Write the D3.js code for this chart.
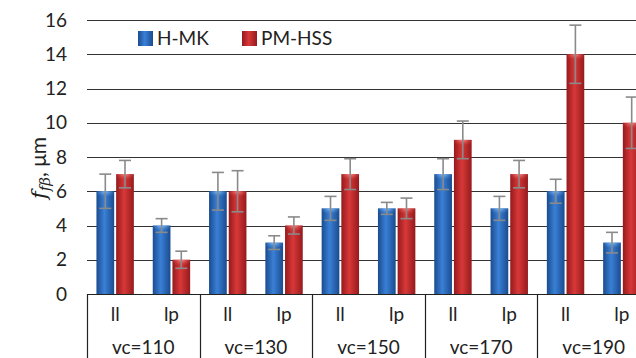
<!DOCTYPE html>
<html>
<head>
<meta charset="utf-8">
<script src="https://cdn.jsdelivr.net/npm/d3@7"></script>
<style>
  body { margin: 0; background: #fff; }
  svg { display: block; font-family: Lato, "Open Sans", sans-serif; }
</style>
</head>
<body>
<svg id="chart" width="636" height="358"></svg>
<script>
// speeds and pass types
const groups = ["vc=110", "vc=130", "vc=150", "vc=170", "vc=190"];
const subs = ["ll", "lp"];
const seriesNames = ["H-MK", "PM-HSS"];

// values per group/sub, in order 110 ll, 110 lp, 130 ll, ...
const hmk = [6, 4, 6, 3, 5, 5, 7, 5, 6, 3];
const pmhss = [7, 2, 6, 4, 7, 5, 9, 7, 14, 10];
const hmkErr = [1, 0.4, 1.1, 0.4, 0.7, 0.35, 0.9, 0.7, 0.7, 0.6];
const pmhssErr = [0.8, 0.5, 1.2, 0.5, 0.9, 0.6, 1.1, 0.8, 1.7, 1.5];
const yTicks = [0, 2, 4, 6, 8, 10, 12, 14, 16];

const svg = d3.select("#chart");
const plotLeft = 87, plotTop = 20, plotBottom = 294, plotRight = 650;

const y = d3.scaleLinear().domain([0, 16]).range([plotBottom, plotTop]);
const xGroup = d3.scaleBand().domain(groups).range([plotLeft, plotRight]);
const xSub = d3.scaleBand().domain(subs).range([0, xGroup.bandwidth()]);
const xSeries = d3.scaleBand().domain(seriesNames).range([0, xSub.bandwidth()])
    .paddingInner(0.1).paddingOuter(0.48);

const colors = {
    "H-MK": { edge: "#1a4b8f", mid: "#3a80d6", light: "#8cc2f5" },
    "PM-HSS": { edge: "#951a1d", mid: "#d83838", light: "#f59090" }
};

const defs = svg.append("defs");
seriesNames.forEach((s, i) => {
    const g = defs.append("linearGradient").attr("id", "grad" + i)
        .attr("x1", 0).attr("x2", 1).attr("y1", 0).attr("y2", 0);
    g.append("stop").attr("offset", "0%").attr("stop-color", colors[s].edge);
    g.append("stop").attr("offset", "45%").attr("stop-color", colors[s].mid);
    g.append("stop").attr("offset", "100%").attr("stop-color", colors[s].edge);
    const t = defs.append("radialGradient").attr("id", "top" + i)
        .attr("cx", "50%").attr("cy", "0%").attr("r", "60%");
    t.append("stop").attr("offset", "0%").attr("stop-color", colors[s].light);
    t.append("stop").attr("offset", "100%").attr("stop-color", colors[s].mid).attr("stop-opacity", 0);
});

// grid
svg.append("g").selectAll("line").data(yTicks.filter(d => d > 0)).join("line")
    .attr("x1", plotLeft).attr("x2", 636)
    .attr("y1", d => Math.round(y(d)) + 0.5).attr("y2", d => Math.round(y(d)) + 0.5)
    .attr("stroke", "#333").attr("stroke-width", 1.2);

// y ticks
svg.append("g").selectAll("text").data(yTicks).join("text")
    .attr("x", 67).attr("y", d => y(d) + 6.5)
    .attr("text-anchor", "end").attr("font-size", 19).attr("fill", "#222")
    .text(d => d);

// y title
const yt = svg.append("text")
    .attr("transform", "translate(46,168) rotate(-90)")
    .attr("text-anchor", "middle").attr("font-size", 21).attr("fill", "#222")
    .attr("font-family", "'DejaVu Serif', serif");
yt.append("tspan").attr("font-style", "italic").text("f");
yt.append("tspan").attr("font-style", "italic").attr("font-size", 15).attr("dy", 4).text("fβ");
yt.append("tspan").attr("dy", -4).attr("font-family", "Lato, sans-serif").text(", μm");

// bars
const rows = [];
groups.forEach((g, gi) => subs.forEach((s, si) => {
    const k = gi * 2 + si;
    rows.push({ g, s, series: "H-MK", si: 0, v: hmk[k], e: hmkErr[k] });
    rows.push({ g, s, series: "PM-HSS", si: 1, v: pmhss[k], e: pmhssErr[k] });
}));
const bx = d => xGroup(d.g) + xSub(d.s) + xSeries(d.series);
const bw = xSeries.bandwidth();

const bars = svg.append("g");
bars.selectAll("rect.bar").data(rows).join("rect").attr("class", "bar")
    .attr("x", bx).attr("y", d => y(d.v)).attr("width", bw)
    .attr("height", d => y(0) - y(d.v))
    .attr("fill", d => `url(#grad${d.si})`);
bars.selectAll("rect.cap").data(rows).join("rect").attr("class", "cap")
    .attr("x", bx).attr("y", d => y(d.v)).attr("width", bw).attr("height", 10)
    .attr("fill", d => `url(#top${d.si})`);

// error bars
const eb = svg.append("g").attr("stroke", "#8a8a8a").attr("stroke-width", 1.6);
eb.selectAll("line.v").data(rows).join("line").attr("class", "v")
    .attr("x1", d => bx(d) + bw / 2).attr("x2", d => bx(d) + bw / 2)
    .attr("y1", d => y(d.v + d.e)).attr("y2", d => y(d.v - d.e));
[1, -1].forEach(sign => {
    eb.selectAll("line.c" + sign).data(rows).join("line")
        .attr("x1", d => bx(d) + bw / 2 - 6).attr("x2", d => bx(d) + bw / 2 + 6)
        .attr("y1", d => y(d.v + sign * d.e))
        .attr("y2", d => y(d.v + sign * d.e));
});

// category axis
const ax = svg.append("g").attr("stroke", "#222").attr("stroke-width", 1.2);
ax.append("line").attr("x1", plotLeft).attr("x2", 636)
    .attr("y1", plotBottom + 0.5).attr("y2", plotBottom + 0.5);
ax.selectAll("line.sep").data(groups).join("line")
    .attr("x1", d => Math.round(xGroup(d)) + 0.5).attr("x2", d => Math.round(xGroup(d)) + 0.5)
    .attr("y1", plotBottom).attr("y2", 358);

const labels = svg.append("g").attr("font-size", 19).attr("fill", "#222").attr("text-anchor", "middle");
groups.forEach(g => {
    subs.forEach(s => {
        labels.append("text").attr("x", xGroup(g) + xSub(s) + xSub.bandwidth() / 2)
            .attr("y", 321).text(s);
    });
    labels.append("text").attr("x", xGroup(g) + xGroup.bandwidth() / 2).attr("y", 354).text(g);
});

// legend
const lg = svg.append("g").attr("font-size", 19).attr("fill", "#222");
const legX = [138, 242];
seriesNames.forEach((s, i) => {
    lg.append("rect").attr("x", legX[i]).attr("y", 31).attr("width", 15).attr("height", 15)
        .attr("fill", `url(#grad${i})`);
    lg.append("text").attr("x", legX[i] + 19).attr("y", 45).text(s);
});
</script>
</body>
</html>
